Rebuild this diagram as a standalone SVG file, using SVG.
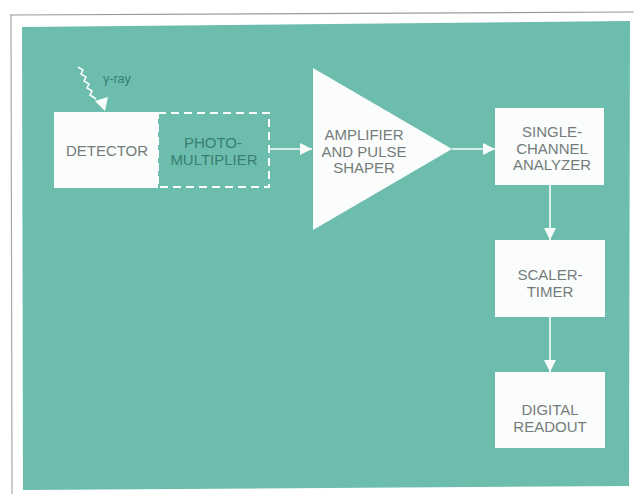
<svg xmlns="http://www.w3.org/2000/svg" width="634" height="494" viewBox="0 0 634 494">
  <defs>
    <marker id="ah" viewBox="0 0 10 10" refX="10" refY="5" markerWidth="12" markerHeight="12" markerUnits="userSpaceOnUse" orient="auto">
      <path d="M0,0 L10,5 L0,10 Z" fill="#fbfdfc"/>
    </marker>
    <style>
      .box { fill: #fbfdfc; }
      .lbl { font-family: "Liberation Sans", Arial, sans-serif; font-size: 15px; fill: #737c7a; text-anchor: middle; }
      .lbl2 { font-family: "Liberation Sans", Arial, sans-serif; font-size: 15px; fill: #3a7e72; text-anchor: middle; }
      .conn { stroke: #fbfdfc; stroke-width: 1.6; fill: none; }
    </style>
  </defs>
  <rect width="634" height="494" fill="#ffffff"/>
  <path d="M10,15 L634,12" stroke="#9a9a9a" stroke-width="1.2" fill="none"/>
  <path d="M11,15 L12,494" stroke="#a8a8a8" stroke-width="1.2" fill="none"/>
  <polygon points="22,27 630,21 629,486 23,490" fill="#6cbdae"/>

  <g id="gamma">
    <path class="conn" d="M78,67 L83,70 L81,74 L86,77 L84,81 L89,84 L87,88 L92,91 L90,95 L96,99"/>
    <polygon points="105,111 95,101 108,97" fill="#fbfdfc"/>
    <text x="103" y="83" style="font-family:'Liberation Sans',Arial,sans-serif;font-size:12.5px;fill:#3a7e72">γ-ray</text>
  </g>

  <g id="detector">
    <rect class="box" x="54" y="112" width="104" height="76"/>
    <text class="lbl" x="107" y="156">DETECTOR</text>
  </g>

  <g id="photomultiplier">
    <rect x="158" y="113" width="111" height="74" fill="none" stroke="#fbfdfc" stroke-width="2" stroke-dasharray="8,5"/>
    <text class="lbl2" x="213" y="148">PHOTO-</text>
    <text class="lbl2" x="214" y="165">MULTIPLIER</text>
  </g>

  <g id="amplifier">
    <polygon class="box" points="313,68 313,230 452,149"/>
    <text class="lbl" x="364" y="140">AMPLIFIER</text>
    <text class="lbl" x="364" y="157">AND PULSE</text>
    <text class="lbl" x="364" y="173">SHAPER</text>
  </g>

  <g id="sca">
    <rect class="box" x="495" y="108" width="109" height="77"/>
    <text class="lbl" x="552" y="137">SINGLE-</text>
    <text class="lbl" x="552" y="154">CHANNEL</text>
    <text class="lbl" x="552" y="170">ANALYZER</text>
  </g>

  <g id="scaler">
    <rect class="box" x="495" y="240" width="110" height="77"/>
    <text class="lbl" x="550" y="280">SCALER-</text>
    <text class="lbl" x="550" y="297">TIMER</text>
  </g>

  <g id="readout">
    <rect class="box" x="495" y="372" width="110" height="76"/>
    <text class="lbl" x="550" y="415">DIGITAL</text>
    <text class="lbl" x="550" y="432">READOUT</text>
  </g>

  <g id="connectors">
    <path class="conn" d="M269,149 L312,149" marker-end="url(#ah)"/>
    <path class="conn" d="M452,149 L495,149" marker-end="url(#ah)"/>
    <path class="conn" d="M550,185 L550,240" marker-end="url(#ah)"/>
    <path class="conn" d="M550,317 L550,372" marker-end="url(#ah)"/>
  </g>
</svg>
